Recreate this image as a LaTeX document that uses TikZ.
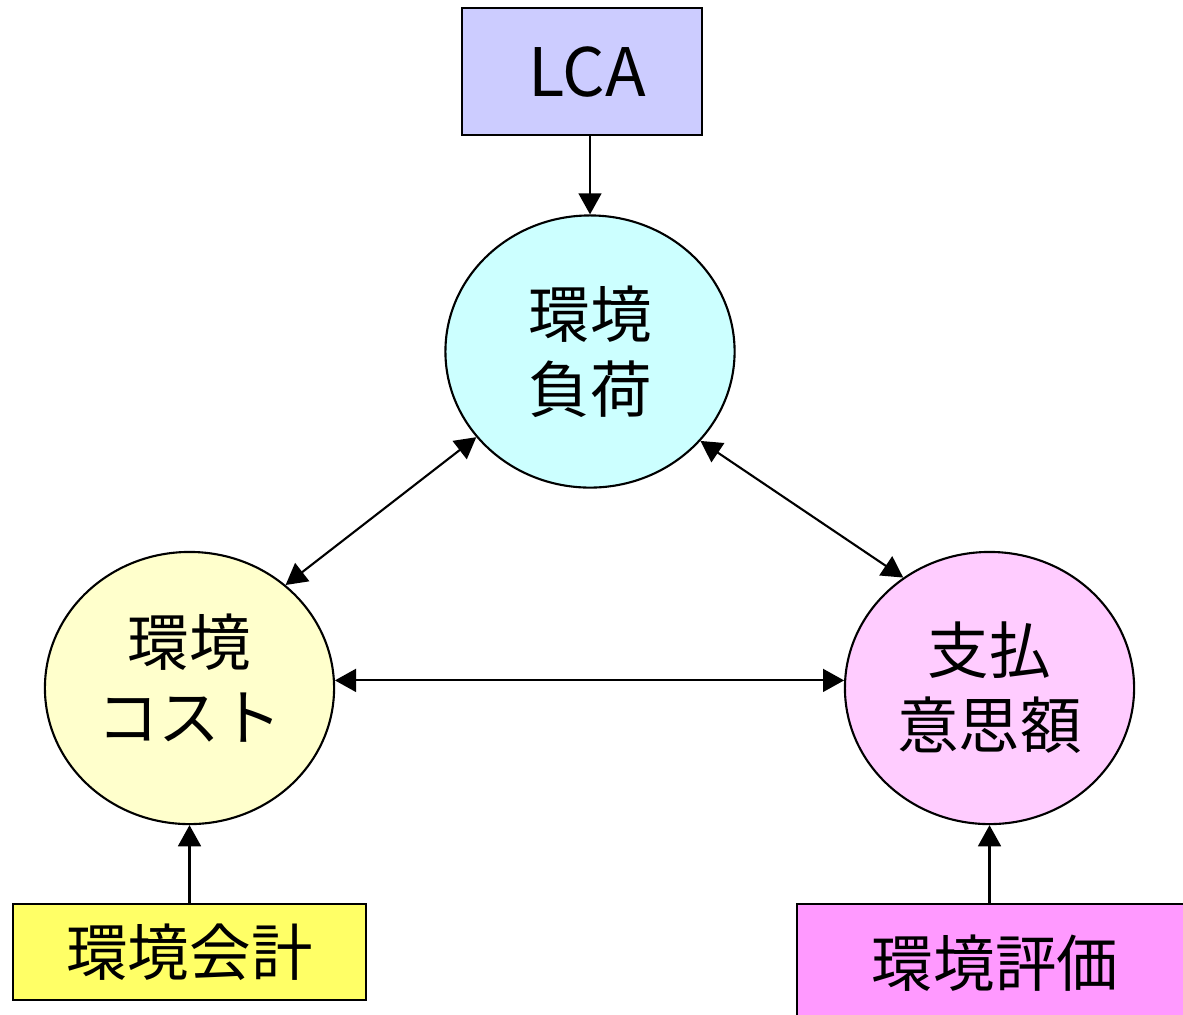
\documentclass[tikz,border=0pt]{standalone}
\usepackage{fontspec}
\setmainfont{Noto Sans CJK JP}
\usepackage{tikz}
\usetikzlibrary{shapes,arrows.meta}

\definecolor{lcaColor}{RGB}{204,204,255}
\definecolor{loadColor}{RGB}{204,255,255}
\definecolor{costColor}{RGB}{255,255,204}
\definecolor{wtpColor}{RGB}{255,204,255}
\definecolor{accColor}{RGB}{255,255,102}
\definecolor{evalColor}{RGB}{255,153,255}

\begin{document}
\begin{tikzpicture}[x=0.01cm,y=-0.01cm,
  every node/.style={font=\fontsize{17.5pt}{21.3pt}\selectfont},
  ovalnode/.style={ellipse,draw,line width=0.6pt,minimum width=2.89cm,minimum height=2.72cm,inner sep=0pt,align=center},
  boxnode/.style={rectangle,draw,line width=0.6pt,inner sep=0pt,align=center},
  link/.style={line width=0.6pt,-{Triangle[length=6pt,width=6.5pt]}},
  twoway/.style={line width=0.6pt,{Triangle[length=6pt,width=6.5pt]}-{Triangle[length=6pt,width=6.5pt]}}]
\useasboundingbox (0,0) rectangle (1183,1014);
\clip (0,0) rectangle (1183,1014);
% boxes
\node[boxnode,fill=lcaColor,minimum width=2.40cm,minimum height=1.27cm,font=\fontsize{19pt}{22pt}\selectfont] (lca) at (582,71.5) {\hspace*{2.8pt}\raisebox{-1.7pt}{LCA}};
\node[boxnode,fill=accColor,minimum width=3.53cm,minimum height=0.96cm] (acc) at (189.5,952) {環境会計};
\node[boxnode,fill=evalColor,minimum width=3.96cm,minimum height=1.18cm] (eval) at (995,963) {環境評価};
% ovals
\node[ovalnode,fill=loadColor] (load) at (590,351.5) {環境\\負荷};
\node[ovalnode,fill=costColor] (cost) at (189.5,688) {\raisebox{3.4pt}{\begin{tabular}{@{}c@{}}環境\\コスト\end{tabular}}};
\node[ovalnode,fill=wtpColor] (wtp) at (989.5,688) {支払\\意思額};
% arrows
\draw[link] (lca.south -| load.north) -- (load.north);
\draw[link] (acc.north -| cost.south) -- (cost.south);
\draw[link] (eval.north -| wtp.south) -- (wtp.south);
\draw[twoway] (cost.47.7) -- (load.217.9);
\draw[twoway] (load.321) -- (wtp.128.2);
\draw[twoway] (cost.3) -- (wtp.177);
\end{tikzpicture}
\end{document}
